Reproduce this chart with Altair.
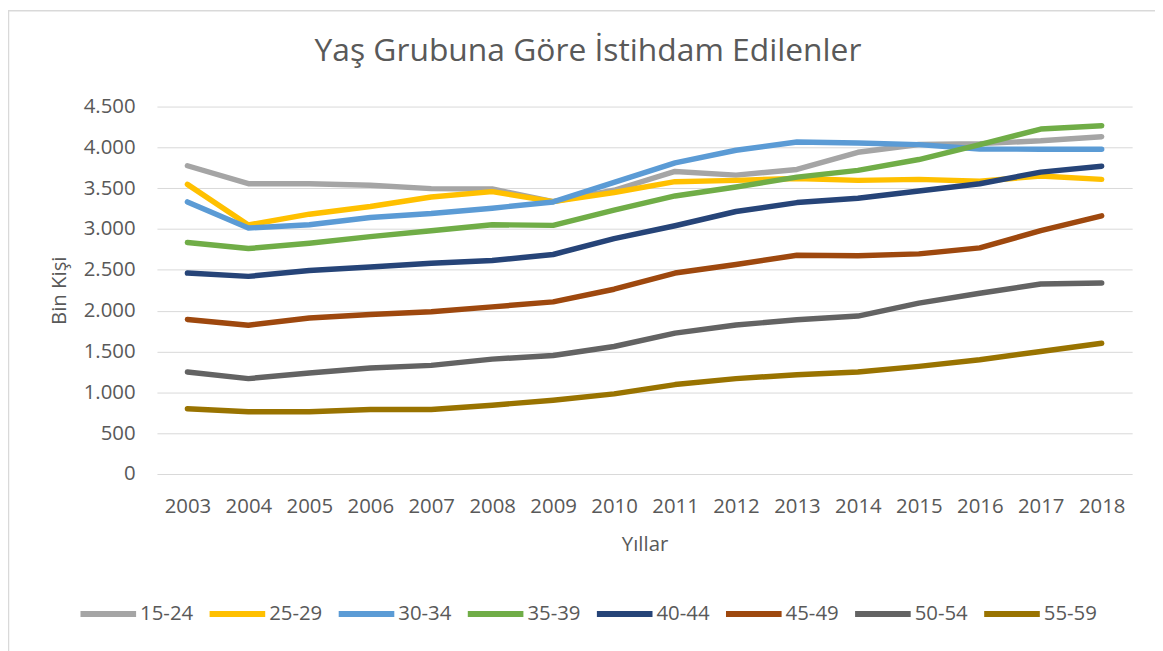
import altair as alt
import pandas as pd

years = [str(y) for y in range(2003, 2019)]
groups = ["15-24", "25-29", "30-34", "35-39", "40-44", "45-49", "50-54", "55-59"]
colors = ["#A5A5A5", "#FFC000", "#5B9BD5", "#70AD47", "#264478", "#9E480E", "#636363", "#997300"]

s_15_24 = [3775, 3555, 3555, 3535, 3495, 3490, 3336, 3475, 3705, 3660, 3730, 3940, 4035, 4046, 4080, 4131]
s_25_29 = [3547, 3050, 3182, 3276, 3393, 3458, 3336, 3447, 3580, 3596, 3620, 3596, 3608, 3585, 3650, 3608]
s_30_34 = [3332, 3012, 3053, 3142, 3190, 3255, 3332, 3572, 3811, 3965, 4066, 4054, 4034, 3981, 3977, 3977]
s_35_39 = [2834, 2761, 2826, 2907, 2980, 3053, 3045, 3231, 3405, 3515, 3636, 3718, 3851, 4034, 4224, 4265]
s_40_44 = [2461, 2420, 2493, 2534, 2582, 2615, 2688, 2882, 3040, 3215, 3324, 3377, 3466, 3555, 3697, 3770]
s_45_49 = [1893, 1822, 1910, 1954, 1986, 2047, 2108, 2263, 2461, 2566, 2679, 2672, 2696, 2769, 2980, 3162]
s_50_54 = [1249, 1168, 1237, 1297, 1330, 1407, 1451, 1561, 1725, 1824, 1889, 1934, 2092, 2213, 2327, 2339]
s_55_59 = [799, 762, 762, 791, 791, 843, 904, 981, 1095, 1168, 1216, 1249, 1318, 1399, 1500, 1601]

series = [s_15_24, s_25_29, s_30_34, s_35_39, s_40_44, s_45_49, s_50_54, s_55_59]
y_ticks = list(range(0, 4501, 500))

rows = []
for g, vals in zip(groups, series):
    for yr, v in zip(years, vals):
        rows.append({"Yıl": yr, "Grup": g, "Değer": v})
df = pd.DataFrame(rows)

FONT = "Open Sans"
TXT = "#595959"

lines = alt.Chart(df).mark_line(strokeWidth=5.5, strokeCap="round", strokeJoin="round").encode(
    x=alt.X("Yıl:O", scale=alt.Scale(type="point", padding=0.5),
            axis=alt.Axis(title="Yıllar", labelAngle=0, domain=False, ticks=False, grid=False,
                          labelPadding=23, titlePadding=18)),
    y=alt.Y("Değer:Q", scale=alt.Scale(domain=[0, 4500], nice=False),
            axis=alt.Axis(title="Bin Kişi", values=y_ticks, domain=False, ticks=False,
                          labelPadding=22, titlePadding=14,
                          labelExpr="replace(format(datum.value, ','), ',', '.')",
                          gridColor="#D9D9D9", gridWidth=1)),
    color=alt.Color("Grup:N", scale=alt.Scale(domain=groups, range=colors),
                    legend=alt.Legend(title=None, orient="none", direction="horizontal", columns=8,
                                      legendX=-80, legendY=480, symbolType="stroke",
                                      symbolSize=3136, symbolStrokeWidth=6, labelOffset=1,
                                      columnPadding=4, padding=0)),
    order=alt.Order("Yıl:O"),
)

frame_df = pd.DataFrame({"k": [0]})
frame_left = alt.Chart(frame_df).mark_rule(color="#D9D9D9", strokeWidth=1.5).encode(
    x=alt.value(-149.5), y=alt.value(-97), y2=alt.value(560))
frame_top = alt.Chart(frame_df).mark_rule(color="#D9D9D9", strokeWidth=1.5).encode(
    x=alt.value(-150), x2=alt.value(1010), y=alt.value(-96.5))

chart = alt.layer(frame_left, frame_top, lines).properties(
    width=982, height=370,
    autosize=alt.AutoSizeParams(type="none"),
    padding={"left": 150, "top": 97, "right": 23, "bottom": 176},
    title=alt.TitleParams("Yaş Grubuna Göre İstihdam Edilenler", anchor="middle", frame="group",
                          dx=-57, offset=-59, fontSize=32, font=FONT, fontWeight="normal", color=TXT),
).configure_view(stroke=None).configure_axis(
    labelFont=FONT, titleFont=FONT, labelFontSize=20.5, titleFontSize=20.5,
    labelColor=TXT, titleColor=TXT, titleFontWeight="normal"
).configure_legend(labelFont=FONT, labelFontSize=20.5, labelColor=TXT)

chart.save("out.html", embed_options={"renderer": "svg", "actions": False})
